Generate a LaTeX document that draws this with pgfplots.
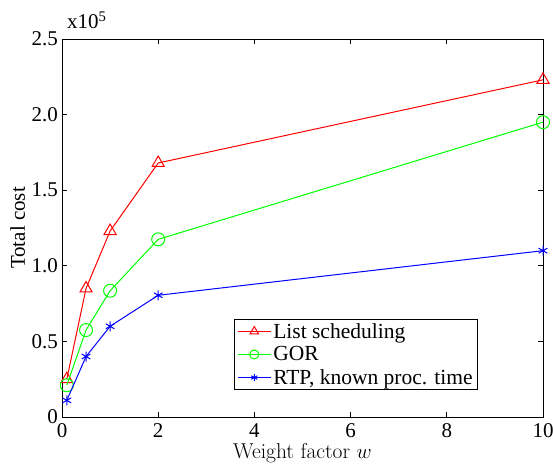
\documentclass[border=0pt]{standalone}
\usepackage{pgfplots}
\pgfplotsset{compat=1.18}
\usepackage{fontspec}
\newfontfamily\tms{Liberation Serif}
\begin{document}
\begin{tikzpicture}
\begin{axis}[
  name=ax,
  scale only axis,
  width=481pt, height=378pt,
  xmin=0, xmax=10, ymin=0, ymax=2.5,
  xtick={0,2,4,6,8,10},
  ytick={0,0.5,1,1.5,2,2.5},
  yticklabels={0,0.5,1.0,1.5,2.0,2.5},
  tick align=inside,
  major tick length=5pt,
  xtick pos=both, ytick pos=both,
  clip mode=individual,
  /pgf/number format/assume math mode=true,
  tick label style={font=\tms\fontsize{21}{24}\selectfont},
  xticklabel style={anchor=base, yshift=-20pt},
  yticklabel style={anchor=east, inner sep=0pt, xshift=-4pt},
  xlabel style={font=\fontsize{21.5}{24}\selectfont, at={(axis description cs:0.5,0)}, anchor=base, yshift=-41pt},
  xlabel={Weight factor $w$},
  axis line style={line width=0.8pt},
  every tick/.style={line width=0.8pt},
  legend style={at={(0.865,0.071)}, anchor=south east, draw=black, line width=0.8pt,
    font=\tms\fontsize{21.5}{24}\selectfont, row sep=3pt, nodes={inner sep=2pt}, inner xsep=3pt, inner ysep=2pt, cells={anchor=west}},
  legend cell align=left,
  legend image code/.code={\draw[mark repeat=2, mark phase=2, #1, mark options={scale=0.7}] plot coordinates {(0cm,0cm) (0.58cm,0cm) (1.16cm,0cm)};},
]
\addplot[red, line width=1pt, mark=triangle, mark size=7pt] coordinates {
  (0.1,0.25) (0.5,0.85) (1,1.23) (2,1.68) (10,2.23)};
\addlegendentry{List scheduling}
\addplot[green, line width=1pt, mark=o, mark size=6.5pt] coordinates {
  (0.1,0.21) (0.5,0.575) (1,0.835) (2,1.175) (10,1.95)};
\addlegendentry{GOR}
\addplot[blue, line width=1pt, mark=asterisk, mark size=5pt] coordinates {
  (0.1,0.11) (0.5,0.40) (1,0.60) (2,0.805) (10,1.10)};
\addlegendentry{RTP, known proc. time}
\node[anchor=base west, inner sep=0pt, font=\tms\fontsize{21}{24}\selectfont] at (rel axis cs:0,1) [xshift=5pt, yshift=10pt] {x10\textsuperscript{5}};
\end{axis}
\node[rotate=90, anchor=base, inner sep=0pt, font=\tms\fontsize{21}{24}\selectfont] at ([xshift=-37pt]ax.west) {Total cost};
\pgfresetboundingbox
\path[use as bounding box] ([xshift=-62pt,yshift=-49pt]ax.south west) rectangle ([xshift=10pt,yshift=39pt]ax.north east);
\end{tikzpicture}
\end{document}
